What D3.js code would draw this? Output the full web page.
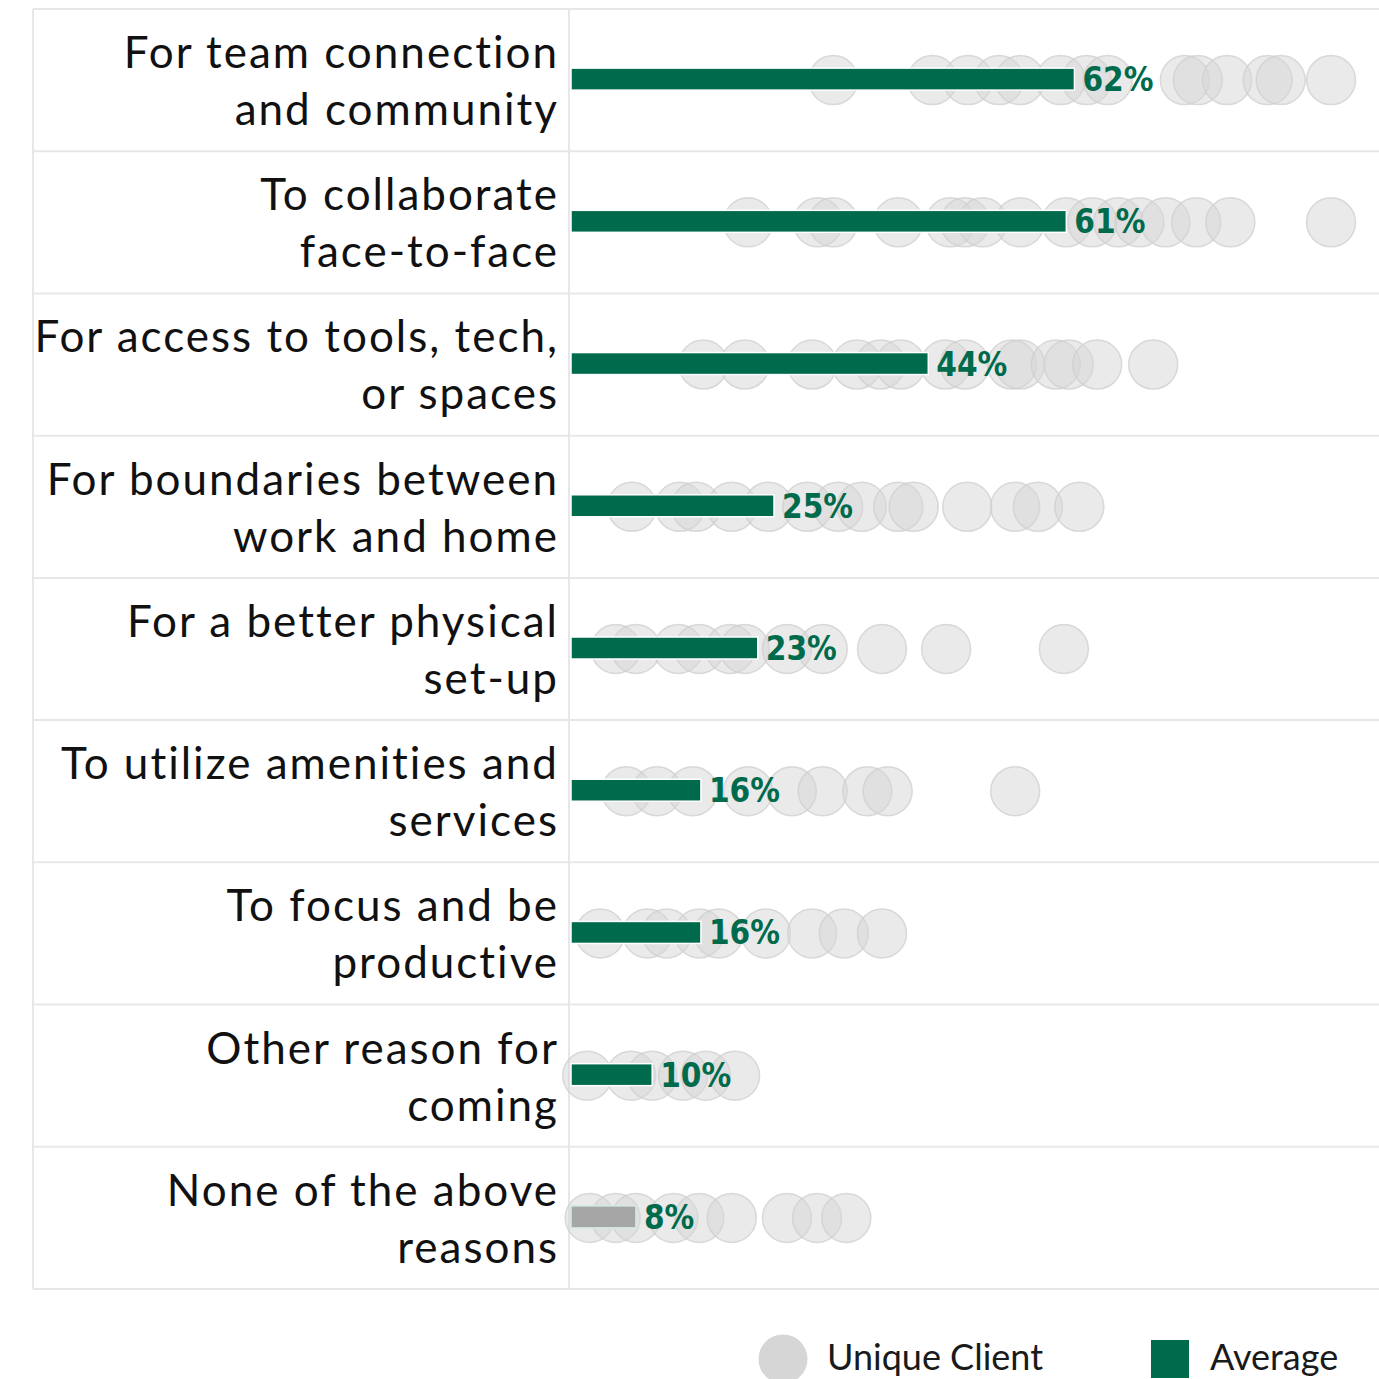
<!DOCTYPE html>
<html>
<head>
<meta charset="utf-8">
<script src="https://cdn.jsdelivr.net/npm/d3@7"></script>
<style>
  html, body { margin: 0; padding: 0; background: #ffffff; }
  svg { display: block; }
</style>
</head>
<body>
<svg id="chart" width="1379" height="1379"></svg>
<script>
// Reasons for coming to the office: average share vs. each client's share
const categories = [
  "For team connection\nand community",
  "To collaborate\nface-to-face",
  "For access to tools, tech,\nor spaces",
  "For boundaries between\nwork and home",
  "For a better physical\nset-up",
  "To utilize amenities and\nservices",
  "To focus and be\nproductive",
  "Other reason for\ncoming",
  "None of the above\nreasons"
];

// Average across all clients (%)
const averages = [62, 61, 44, 25, 23, 16, 16, 10, 8];

// Individual client results (%), one list per reason
const clientValues = [
  [32.3, 44.5, 48.9, 52.7, 55.3, 60.3, 63.5, 66.1, 75.6, 77.2, 80.8, 85.8, 87.4, 93.6],
  [21.8, 30.4, 32.3, 40.3, 46.7, 48.5, 50.7, 55.3, 61.0, 64.2, 67.4, 70.0, 73.2, 77.0, 81.2, 93.6],
  [16.3, 21.4, 29.7, 35.2, 38.1, 40.6, 46.1, 48.5, 54.3, 55.3, 59.7, 61.3, 64.8, 71.7],
  [7.5, 13.4, 15.4, 19.8, 24.3, 29.1, 32.9, 35.8, 40.3, 42.2, 48.8, 54.7, 57.5, 62.6],
  [5.5, 8.0, 13.2, 15.8, 19.6, 21.4, 26.6, 31.0, 38.3, 46.2, 60.7],
  [6.8, 10.6, 15.0, 21.8, 27.2, 31.0, 36.5, 39.0, 54.7],
  [3.6, 9.4, 11.8, 15.8, 18.2, 24.0, 29.7, 33.6, 38.3],
  [2.0, 7.4, 10.0, 13.8, 16.6, 20.2],
  [2.3, 5.5, 8.0, 12.6, 15.8, 19.8, 26.6, 30.3, 33.9]
];

const legendLabels = ["Unique Client", "Average"];

const GREEN = "#006a4c";
const GREY_BAR = "#a6a6a6";
const CLIENT_FILL = "#d6d6d6";
const GRID = "#e7e7e7";
const neutralCategory = categories[categories.length - 1];

const svg = d3.select("#chart");
const W = 1379;

const tableLeft = 33, splitX = 569, tableTop = 9, tableBottom = 1289;

const y = d3.scaleBand().domain(categories).range([tableTop, tableBottom]);
const x = d3.scaleLinear().domain([0, 100]).range([571, 1383]);

// Table grid
const grid = svg.append("g").attr("class", "grid");
const rowEdges = categories.map(c => y(c)).concat([tableBottom]);
grid.selectAll("line.h").data(rowEdges).join("line")
  .attr("class", "h")
  .attr("x1", tableLeft).attr("x2", W)
  .attr("y1", d => d).attr("y2", d => d)
  .attr("stroke", GRID).attr("stroke-width", 2);
grid.selectAll("line.v").data([tableLeft, splitX]).join("line")
  .attr("class", "v")
  .attr("x1", d => d).attr("x2", d => d)
  .attr("y1", tableTop).attr("y2", tableBottom)
  .attr("stroke", GRID).attr("stroke-width", 2);

// Category labels (two lines, right aligned)
const labels = svg.append("g").attr("class", "labels");
categories.forEach(c => {
  const lines = c.split("\n");
  const t = labels.append("text")
    .attr("text-anchor", "end")
    .attr("font-family", "Lato, 'Noto Sans', sans-serif")
    .attr("font-size", 44)
    .attr("letter-spacing", 2)
    .attr("fill", "#111111");
  lines.forEach((ln, i) => {
    t.append("tspan")
      .attr("x", 559)
      .attr("y", y(c) + 59 + i * 57)
      .text(ln);
  });
});

const rowCenter = c => y(c) + y.bandwidth() / 2;

// Client dots
const dots = svg.append("g").attr("class", "clients");
categories.forEach((c, i) => {
  dots.selectAll(null).data(clientValues[i]).join("circle")
    .attr("cx", d => x(d))
    .attr("cy", rowCenter(c))
    .attr("r", 24.5)
    .attr("fill", CLIENT_FILL)
    .attr("fill-opacity", 0.5)
    .attr("stroke", "#cfcfcf")
    .attr("stroke-opacity", 0.75)
    .attr("stroke-width", 1.5);
});

// Average bars
const barH = 22;
svg.append("g").attr("class", "bars")
  .selectAll("rect").data(categories).join("rect")
  .attr("x", x(0))
  .attr("y", c => rowCenter(c) - barH / 2 - 1)
  .attr("width", (c, i) => x(averages[i]) - x(0))
  .attr("height", barH)
  .attr("fill", c => c === neutralCategory ? GREY_BAR : GREEN)
  .attr("stroke", c => c === neutralCategory ? "#d4ebe0" : "#ffffff")
  .attr("stroke-width", 1.5);

// Value labels
svg.append("g").attr("class", "values")
  .selectAll("text").data(categories).join("text")
  .attr("x", (c, i) => x(averages[i]) + 8)
  .attr("y", c => rowCenter(c) + 11)
  .attr("font-family", "'DejaVu Sans Condensed', 'DejaVu Sans', sans-serif")
  .attr("font-weight", "bold")
  .attr("font-size", 33)
  .attr("fill", GREEN)
  .text((c, i) => averages[i] + "%");

// Legend
const legend = svg.append("g").attr("class", "legend");
legend.append("circle")
  .attr("cx", 783).attr("cy", 1359).attr("r", 24.5)
  .attr("fill", CLIENT_FILL);
legend.append("text")
  .attr("x", 827).attr("y", 1370)
  .attr("font-family", "Lato, 'Noto Sans', sans-serif")
  .attr("font-size", 36)
  .attr("fill", "#1a1a1a")
  .text(legendLabels[0]);
legend.append("rect")
  .attr("x", 1151).attr("y", 1340).attr("width", 38).attr("height", 38)
  .attr("fill", GREEN);
legend.append("text")
  .attr("x", 1210).attr("y", 1370)
  .attr("font-family", "Lato, 'Noto Sans', sans-serif")
  .attr("font-size", 36)
  .attr("fill", "#1a1a1a")
  .text(legendLabels[1]);
</script>
</body>
</html>
